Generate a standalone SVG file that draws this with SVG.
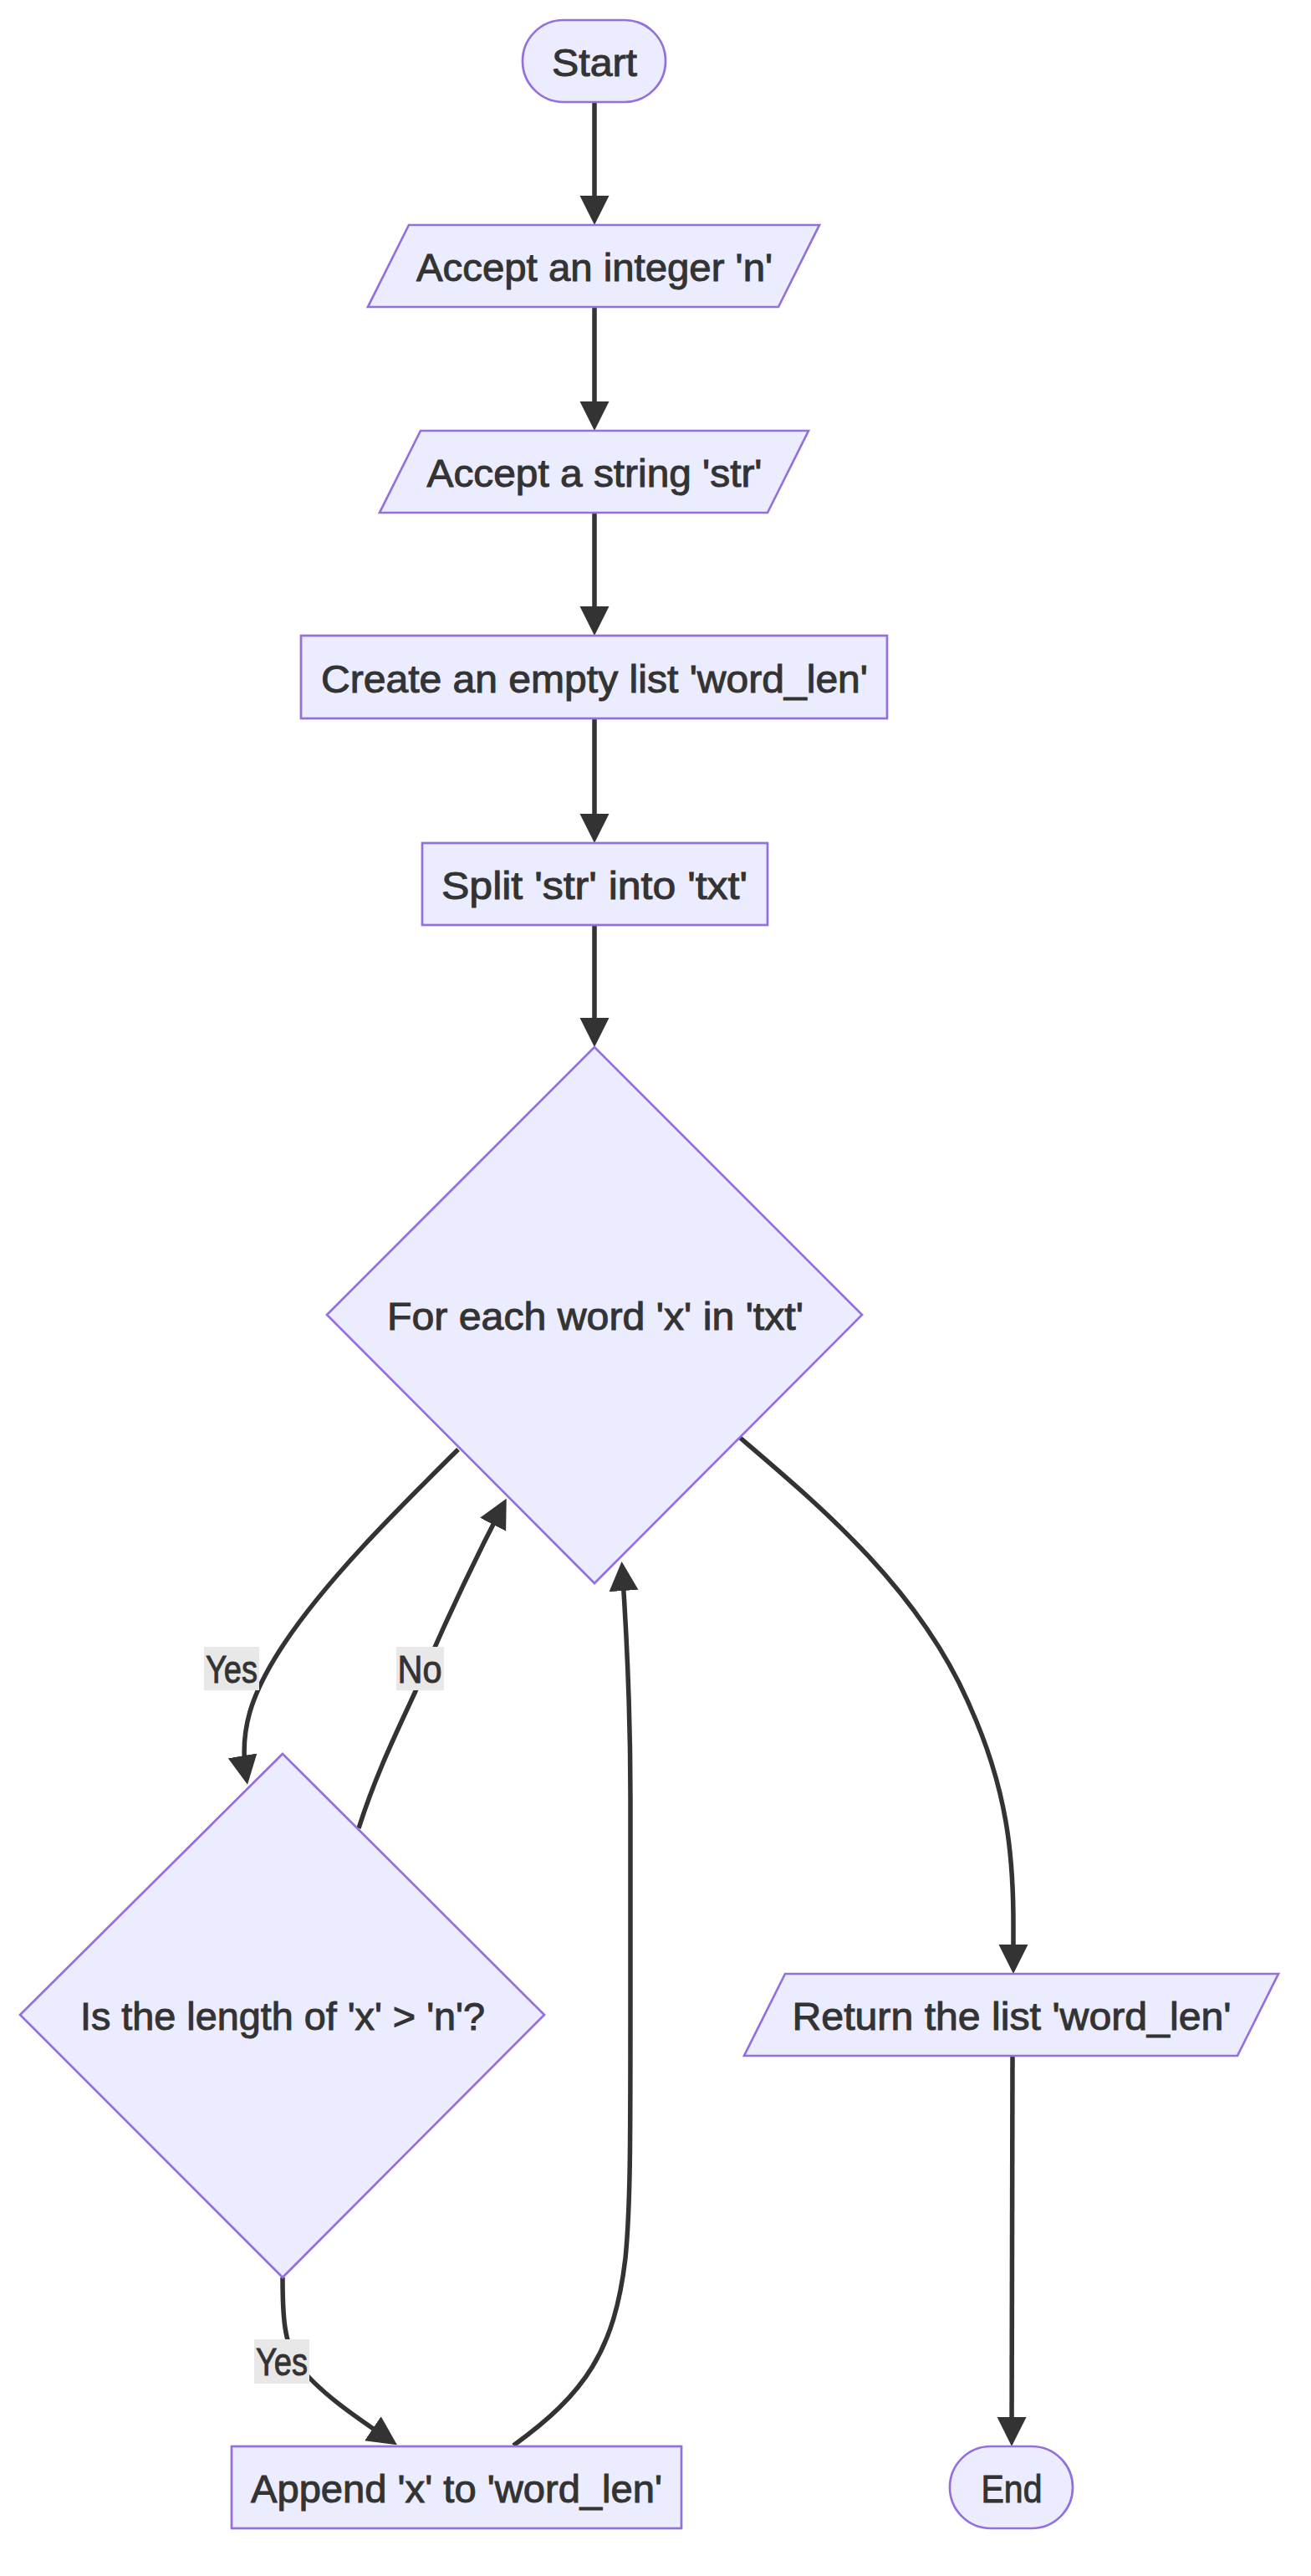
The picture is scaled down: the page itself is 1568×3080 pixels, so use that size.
<svg xmlns="http://www.w3.org/2000/svg" width="1568" height="3080" viewBox="0 0 1568 3080">
<style>
.node{fill:#ECECFF;stroke:#9370DB;stroke-width:2.7}
.lbl{font-family:"Liberation Sans",Arial,sans-serif;font-size:46px;fill:#333333;stroke:#333333;stroke-width:1;text-anchor:middle}
.edge{fill:none;stroke:#333333;stroke-width:5.5}
.elbg{fill:#e8e8e8}
</style>
<defs>
<marker id="arrow" viewBox="0 0 10 10" refX="8.3" refY="5" markerUnits="userSpaceOnUse" markerWidth="35" markerHeight="36" orient="auto">
<path d="M0,0 L10,5 L0,10 z" fill="#333333"/>
</marker>
</defs>
<rect width="1568" height="3080" fill="#ffffff"/>
<g id="connectors">
<path class="edge" d="M711,122 L711,263" marker-end="url(#arrow)"/>
<path class="edge" d="M711,367 L711,509" marker-end="url(#arrow)"/>
<path class="edge" d="M711,613 L711,754" marker-end="url(#arrow)"/>
<path class="edge" d="M711,859 L711,1002" marker-end="url(#arrow)"/>
<path class="edge" d="M711,1106 L711,1246" marker-end="url(#arrow)"/>
<path class="edge" d="M548,1733 C470,1810 390,1890 340,1965 C300,2025 285,2070 295,2128" marker-end="url(#arrow)"/>
<path class="edge" d="M429,2186 C450,2120 475,2070 497,2022 C530,1945 565,1870 603,1797" marker-end="url(#arrow)"/>
<path class="edge" d="M338,2723 C338,2770 340,2800 355,2825 C380,2860 430,2893 470,2920" marker-end="url(#arrow)"/>
<path class="edge" d="M614,2924 C700,2862 735,2810 748,2700 C754,2640 754,2560 754,2400 L754,2150 C754,2040 750,1960 744,1873" marker-end="url(#arrow)"/>
<path class="edge" d="M884,1718 C980,1800 1100,1900 1160,2040 C1205,2140 1212,2220 1212,2300 L1212,2354" marker-end="url(#arrow)"/>
<path class="edge" d="M1211,2458 L1210,2919" marker-end="url(#arrow)"/>
<rect class="elbg" x="244" y="1969" width="66" height="52"/>
<text class="lbl" x="277" y="2012" textLength="62" lengthAdjust="spacingAndGlyphs">Yes</text>
<rect class="elbg" x="474" y="1969" width="57" height="52"/>
<text class="lbl" x="502" y="2012" textLength="53" lengthAdjust="spacingAndGlyphs">No</text>
<rect class="elbg" x="304" y="2797" width="66" height="53"/>
<text class="lbl" x="337" y="2840" textLength="62" lengthAdjust="spacingAndGlyphs">Yes</text>
</g>
<g id="start">
<rect class="node" x="625" y="24" width="171" height="98" rx="49" ry="49"/>
<text class="lbl" x="711" y="91" textLength="102" lengthAdjust="spacingAndGlyphs">Start</text>
</g>
<g id="accept_n">
<polygon class="node" points="489,269 980,269 931,367 440,367"/>
<text class="lbl" x="711" y="336" textLength="426" lengthAdjust="spacingAndGlyphs">Accept an integer 'n'</text>
</g>
<g id="accept_str">
<polygon class="node" points="503,515 967,515 918,613 454,613"/>
<text class="lbl" x="711" y="582" textLength="401" lengthAdjust="spacingAndGlyphs">Accept a string 'str'</text>
</g>
<g id="create_list">
<rect class="node" x="360" y="760" width="701" height="99"/>
<text class="lbl" x="711" y="828" textLength="654" lengthAdjust="spacingAndGlyphs">Create an empty list 'word_len'</text>
</g>
<g id="split">
<rect class="node" x="505" y="1008" width="413" height="98"/>
<text class="lbl" x="711" y="1075" textLength="366" lengthAdjust="spacingAndGlyphs">Split 'str' into 'txt'</text>
</g>
<g id="for_each">
<polygon class="node" points="711,1252 1031,1572 711,1893 391,1572"/>
<text class="lbl" x="712" y="1590" textLength="498" lengthAdjust="spacingAndGlyphs">For each word 'x' in 'txt'</text>
</g>
<g id="is_length">
<polygon class="node" points="338,2097 651,2409 338,2723 24,2409"/>
<text class="lbl" x="338" y="2427" textLength="484" lengthAdjust="spacingAndGlyphs">Is the length of 'x' &gt; 'n'?</text>
</g>
<g id="append">
<rect class="node" x="277" y="2925" width="538" height="98"/>
<text class="lbl" x="546" y="2992" textLength="492" lengthAdjust="spacingAndGlyphs">Append 'x' to 'word_len'</text>
</g>
<g id="return_list">
<polygon class="node" points="939,2360 1529,2360 1480,2458 890,2458"/>
<text class="lbl" x="1210" y="2427" textLength="525" lengthAdjust="spacingAndGlyphs">Return the list 'word_len'</text>
</g>
<g id="end">
<rect class="node" x="1136" y="2925" width="147" height="98" rx="49" ry="49"/>
<text class="lbl" x="1210" y="2992" textLength="73" lengthAdjust="spacingAndGlyphs">End</text>
</g>
</svg>
